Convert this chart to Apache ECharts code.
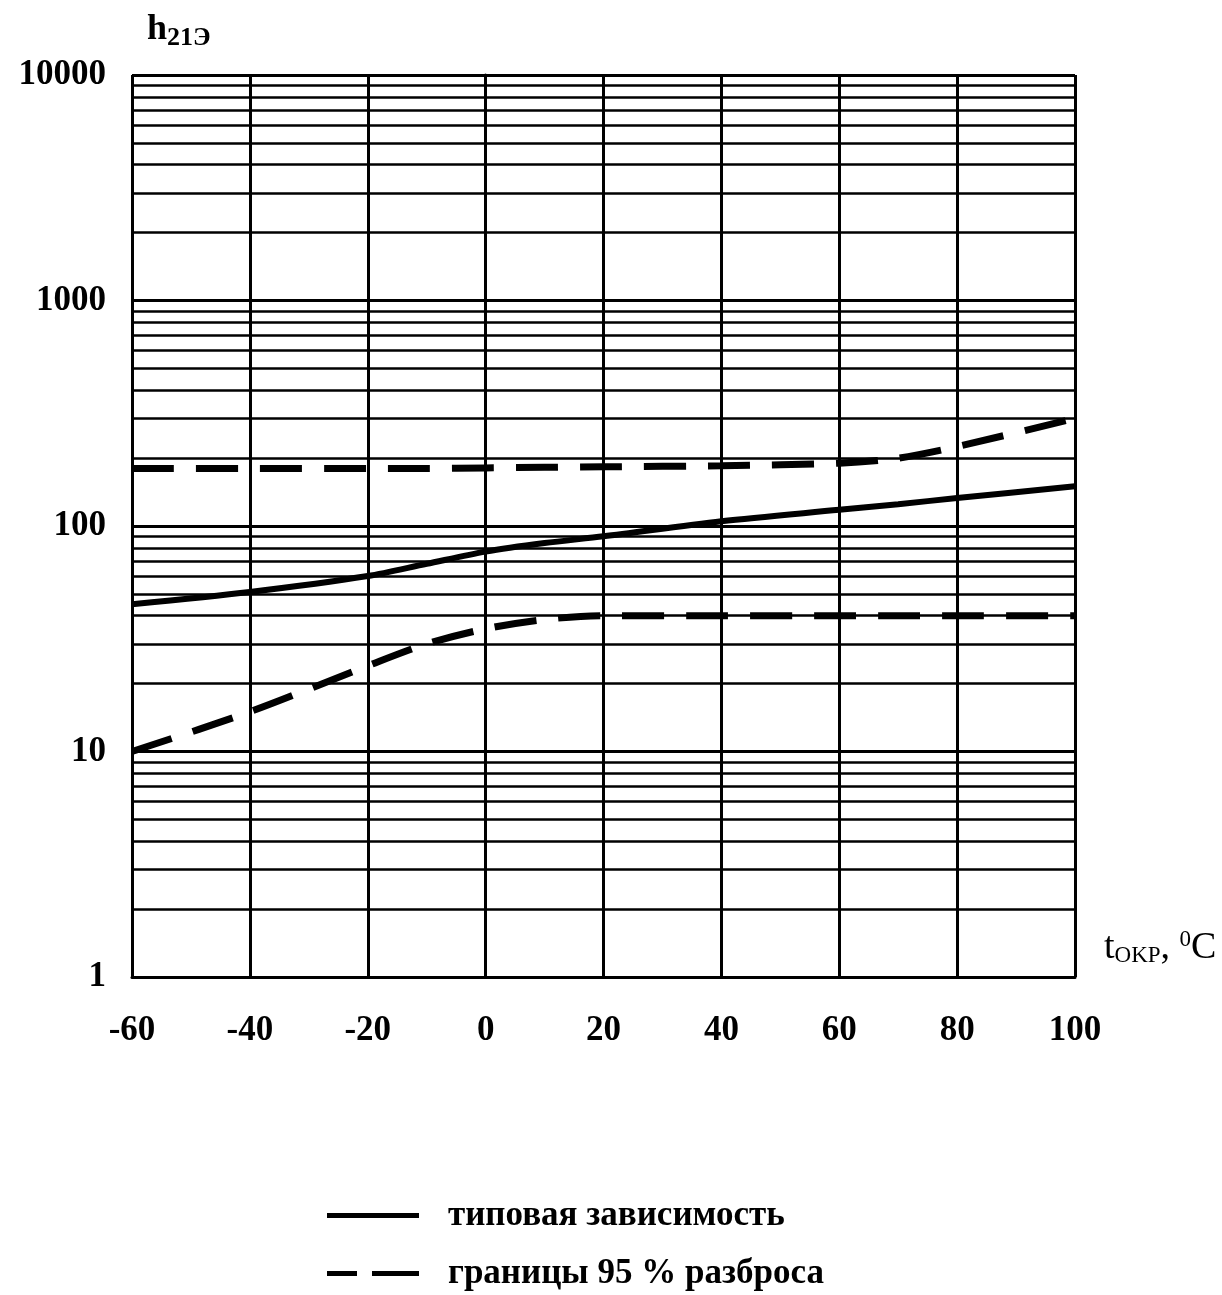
<!DOCTYPE html>
<html>
<head>
<meta charset="utf-8">
<script src="https://cdn.jsdelivr.net/npm/echarts@6/dist/echarts.min.js"></script>
<style>html,body{margin:0;padding:0;background:#fff}#c{width:1222px;height:1295px}</style>
</head>
<body>
<div id="c"></div>
<script>
const temps = [-60, -40, -20, -10, 0, 10, 20, 40, 60, 70, 80, 100];
const typical = [45, 51, 60, 68, 77, 84, 90, 105, 118, 125, 133, 150];
const upperBound = [180, 180, 180, 180, 181, 182, 183, 185, 190, 200, 225, 300];
const lowerBound = [10, 15, 24, 30, 35, 38.5, 40, 40, 40, 40, 40, 40];
const xTicks = [-60, -40, -20, 0, 20, 40, 60, 80, 100];
const yMajor = [1, 10, 100, 1000, 10000];
const yMinor = [2,3,4,5,6,7,8,9,20,30,40,50,60,70,80,90,200,300,400,500,600,700,800,900,2000,3000,4000,5000,6000,7000,8000,9000];
const nameTypical = 'типовая зависимость';
const nameBounds = 'границы 95 % разброса';
const yName = ['h', '21Э'];
const xName = ['t', 'OKP', ', ', '0', 'C'];

const font = 'Liberation Serif';
const pair = (xs, ys) => xs.map((x, i) => [x, ys[i]]);
const legendText = {color: '#000', fontFamily: font, fontWeight: 'bold', fontSize: 35, padding: [0, 0, 0, 24]};

const chart = echarts.init(document.getElementById('c'), null, {renderer: 'canvas'});
chart.setOption({
  animation: false,
  backgroundColor: '#fff',
  grid: {left: 132, right: 147, top: 75, bottom: 318},
  xAxis: {
    type: 'value', min: xTicks[0], max: xTicks[xTicks.length - 1], interval: 20,
    axisLine: {show: true, onZero: false, lineStyle: {color: '#000', width: 3}},
    axisTick: {show: false},
    splitLine: {show: true, lineStyle: {color: '#000', width: 3}},
    axisLabel: {color: '#000', fontFamily: font, fontWeight: 'bold', fontSize: 35, margin: 36}
  },
  yAxis: {
    type: 'log', logBase: 10, min: yMajor[0], max: yMajor[yMajor.length - 1],
    axisLine: {show: true, lineStyle: {color: '#000', width: 3}},
    axisTick: {show: false},
    splitLine: {show: true, lineStyle: {color: '#000', width: 3}},
    axisLabel: {color: '#000', fontFamily: font, fontWeight: 'bold', fontSize: 35, margin: 26,
      formatter: v => String(Math.round(v))}
  },
  graphic: [
    {
      type: 'text', left: 147, top: 12, silent: true,
      style: {
        text: '{h|' + yName[0] + '}{sub|' + yName[1] + '}',
        rich: {
          h: {fontFamily: font, fontWeight: 'bold', fontSize: 36, fill: '#000'},
          sub: {fontFamily: font, fontWeight: 'bold', fontSize: 26, fill: '#000', padding: [16, 0, 0, 0]}
        }
      }
    },
    {
      type: 'text', left: 1104, top: 928, silent: true,
      style: {
        text: '{t|' + xName[0] + '}{sub|' + xName[1] + '}{t|' + xName[2] + '}{sup|' + xName[3] + '}{t|' + xName[4] + '}',
        rich: {
          t: {fontFamily: font, fontSize: 38, fill: '#000'},
          sub: {fontFamily: font, fontSize: 23, fill: '#000', padding: [14, 0, 0, 0]},
          sup: {fontFamily: font, fontSize: 23, fill: '#000', padding: [0, 0, 18, 0]}
        }
      }
    }
  ],
  legend: [
    {
      orient: 'vertical', left: 322, top: 1193,
      itemWidth: 92, itemHeight: 5,
      data: [{name: nameTypical, icon: 'path://M0,0H92V5H0Z'}],
      itemStyle: {color: '#000', borderWidth: 0},
      textStyle: legendText
    },
    {
      orient: 'vertical', left: 322, top: 1251,
      itemWidth: 92, itemHeight: 5,
      data: [{name: nameBounds, icon: 'path://M0,0H30V5H0Z M45,0H92V5H45Z'}],
      itemStyle: {color: '#000', borderWidth: 0},
      textStyle: legendText
    }
  ],
  series: [
    {
      name: nameTypical, type: 'line', data: pair(temps, typical), smooth: 0.3,
      symbol: 'none', lineStyle: {color: '#000', width: 6}, itemStyle: {color: '#000'},
      markLine: {
        silent: true, symbol: 'none', label: {show: false},
        lineStyle: {color: '#000', width: 2.5, type: 'solid'},
        data: yMinor.map(v => ({yAxis: v}))
      }
    },
    {
      name: nameBounds, type: 'line', data: pair(temps, upperBound), smooth: 0.3,
      symbol: 'none', lineStyle: {color: '#000', width: 7, type: [42, 22]}, itemStyle: {color: '#000'}
    },
    {
      name: nameBounds, type: 'line', data: pair(temps, lowerBound), smooth: 0.3,
      symbol: 'none', lineStyle: {color: '#000', width: 7, type: [42, 22]}, itemStyle: {color: '#000'}
    }
  ]
});
</script>
</body>
</html>
